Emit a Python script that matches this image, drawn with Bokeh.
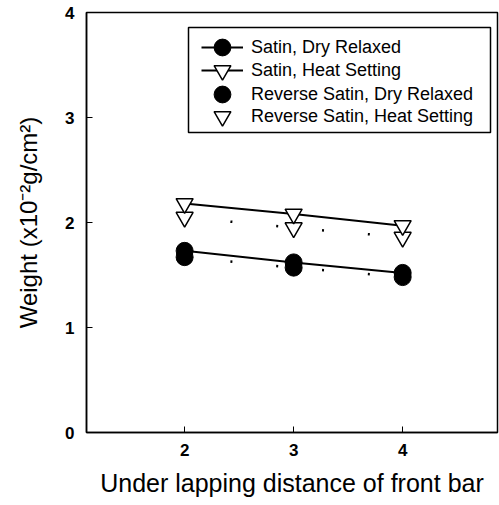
from bokeh.plotting import figure
from bokeh.models import Range1d, FixedTicker, Legend, LegendItem, BoxAnnotation
from bokeh.embed import file_html
from bokeh.resources import INLINE

# Under-lapping distance of the front bar
distance = [2, 3, 4]
# Fabric weight, x10^-2 g/cm^2
satin_dry = [1.73, 1.62, 1.52]
satin_heat = [2.18, 2.08, 1.97]
reverse_dry = [1.67, 1.57, 1.48]
reverse_heat = [2.05, 1.95, 1.86]

x_ticks = [2, 3, 4]
y_ticks = [0, 1, 2, 3, 4]

FONT = "Liberation Sans"

p = figure(width=499, height=505, output_backend="svg", toolbar_location=None,
           x_range=Range1d(1.10, 4.87), y_range=Range1d(0, 4),
           min_border_left=86, min_border_right=2, min_border_top=12,
           min_border_bottom=73)

p.grid.visible = False
p.outline_line_color = "black"
p.outline_line_width = 1.5
p.background_fill_color = "white"
p.border_fill_color = "white"

for ax in (p.xaxis[0], p.yaxis[0]):
    ax.axis_line_color = "black"
    ax.axis_line_width = 1.5
    ax.major_tick_in = 6
    ax.major_tick_out = 0
    ax.major_tick_line_color = "black"
    ax.minor_tick_line_color = None
    ax.major_label_text_font = FONT
    ax.major_label_text_font_size = "17px"
    ax.major_label_text_font_style = "bold"
    ax.major_label_text_color = "black"
    ax.axis_label_text_font = FONT
    ax.axis_label_text_font_style = "normal"
    ax.axis_label_text_color = "black"

p.xaxis.ticker = FixedTicker(ticks=x_ticks)
p.yaxis.ticker = FixedTicker(ticks=y_ticks)
p.xaxis.major_label_standoff = 11
p.yaxis.major_label_standoff = 12
p.xaxis.axis_label = "Under lapping distance of front bar"
p.xaxis.axis_label_text_font_size = "25px"
p.xaxis.axis_label_standoff = 10
p.yaxis.axis_label = "Weight (x10\u207b\u00b2g/cm\u00b2)"
p.yaxis.axis_label_text_font_size = "24px"
p.yaxis.axis_label_standoff = 20

# Trend lines
l_sd = p.line(distance, satin_dry, line_color="black", line_width=2)
l_sh = p.line(distance, satin_heat, line_color="black", line_width=2)
p.line(distance, reverse_dry, line_color="black", line_width=2.5, line_dash="2 44")
p.line(distance, reverse_heat, line_color="black", line_width=2.5, line_dash="2 44")

# Markers
m_rd = p.scatter(distance, reverse_dry, marker="circle", size=17,
                 fill_color="black", line_color="black")
m_rh = p.scatter(distance, reverse_heat, marker="inverted_triangle", size=17,
                 fill_color="white", line_color="black", line_width=1.5)
m_sd = p.scatter(distance, satin_dry, marker="circle", size=17,
                 fill_color="black", line_color="black")
m_sh = p.scatter(distance, satin_heat, marker="inverted_triangle", size=17,
                 fill_color="white", line_color="black", line_width=1.5)

# Legend: one single-row legend per entry, so the rows can sit closer
# together than the tall glyph cells that keep the markers full size
entries = [
    ("Satin, Dry Relaxed", [l_sd, m_sd]),
    ("Satin, Heat Setting", [l_sh, m_sh]),
    ("Reverse Satin, Dry Relaxed", [m_rd]),
    ("Reverse Satin, Heat Setting", [m_rh]),
]
row_bottoms = [364, 341, 317, 295]
for (label, renderers), yb in zip(entries, row_bottoms):
    lg = Legend(items=[LegendItem(label=label, renderers=renderers)],
                location=(115, yb))
    lg.label_text_font = FONT
    lg.label_text_font_size = "18px"
    lg.label_text_color = "black"
    lg.glyph_width = 42
    lg.glyph_height = 42
    lg.padding = 0
    lg.margin = 0
    lg.label_standoff = 8
    lg.border_line_color = None
    lg.background_fill_alpha = 0
    p.add_layout(lg, "center")

# Frame around the legend (frame-relative screen units)
p.add_layout(BoxAnnotation(left=102, right=404, bottom=300, top=405,
                           left_units="screen", right_units="screen",
                           top_units="screen", bottom_units="screen",
                           fill_alpha=0, line_color="black", line_alpha=1.0,
                           line_width=1.5))

open("out.html", "w").write(file_html(p, INLINE))
